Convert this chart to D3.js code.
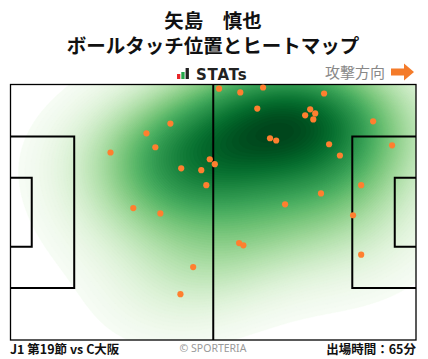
<!DOCTYPE html>
<html>
<head>
<meta charset="utf-8">
<script src="https://cdn.jsdelivr.net/npm/d3@7"></script>
<style>
  body { margin: 0; background: #fff; }
  svg { display: block; font-family: "Noto Sans CJK JP", "Noto Sans", sans-serif; }
</style>
</head>
<body>
<div id="chart"></div>
<script>
// ボールタッチ位置 (m, 105 x 68, 左から右へ攻撃)
const touchX = [41.4, 35.2, 37.5, 25.9, 51.6, 52.9, 44.2, 49.4, 50.7, 31.8, 38.8,
                54.0, 59.5, 65.4, 81.2, 63.9, 77.6, 78.9, 76.3, 78.4, 93.9, 67.2,
                68.8, 82.5, 98.8, 85.3, 90.8, 80.4, 71.1, 88.7, 47.3, 44.0, 59.2,
                60.3, 90.8];
const touchY = [10.4, 13.0, 16.7, 18.1, 19.9, 21.2, 22.3, 22.8, 26.8, 32.9, 34.3,
                1.1, 2.1, 0.8, 2.4, 6.4, 6.6, 7.7, 8.2, 9.3, 9.8, 14.3,
                14.9, 15.9, 16.2, 18.9, 26.8, 29.0, 31.9, 34.8, 48.6, 55.8, 42.2,
                42.8, 45.3];

const titleLines = ['矢島　慎也', 'ボールタッチ位置とヒートマップ'];
const footLeft = 'J1 第19節 vs C大阪';
const footRight = '出場時間：65分';

const W = 428, H = 359;
const pts = touchX.map((x, i) => ({ x: x, y: touchY[i] }));

const svg = d3.select('#chart').append('svg')
    .attr('width', W).attr('height', H);

const fx = d3.scaleLinear().domain([0, 105]).range([10.5, 416]);
const fy = d3.scaleLinear().domain([0, 68]).range([84.5, 340]);

// titles
svg.selectAll('text.title').data(titleLines).join('text')
    .attr('class', 'title')
    .attr('x', 213).attr('y', (d, i) => 28 + i * 25)
    .attr('text-anchor', 'middle')
    .attr('font-size', '19.5px').attr('font-weight', 700)
    .attr('fill', '#111')
    .text(d => d);

// STATs logo
const logo = svg.append('g').attr('transform', 'translate(177,79)');
[['#e8262a', 5], ['#23a64a', 7], ['#222', 11]].forEach((b, i) => {
    logo.append('rect').attr('x', i * 4.3).attr('y', -b[1]).attr('width', 3.3).attr('height', b[1]).attr('fill', b[0]);
});
svg.append('text').attr('x', 196).attr('y', 79.5)
    .attr('font-family', 'DejaVu Sans, sans-serif')
    .attr('font-size', '15px').attr('font-weight', 700).attr('fill', '#222')
    .attr('letter-spacing', '0.8px')
    .text('STATs');

// attack direction
svg.append('text').attr('x', 385).attr('y', 78)
    .attr('text-anchor', 'end')
    .attr('font-size', '15px').attr('fill', '#888')
    .text('攻撃方向');
svg.append('path')
    .attr('d', 'M391,68.5 H404 V63.5 L414,72 L404,80.5 V75.5 H391 Z')
    .attr('fill', '#f47b2a');

// heatmap: gaussian KDE with iso-proportion levels
const clip = svg.append('defs').append('clipPath').attr('id', 'field');
clip.append('rect').attr('x', fx(0)).attr('y', fy(0))
    .attr('width', fx(105) - fx(0)).attr('height', fy(68) - fy(0));

const px = pts.map(d => [fx(d.x), fy(d.y)]);
const mx = d3.mean(px, d => d[0]), my = d3.mean(px, d => d[1]);
const n = px.length;
let cxx = 0, cyy = 0, cxy = 0;
px.forEach(([a, b]) => { cxx += (a - mx) ** 2; cyy += (b - my) ** 2; cxy += (a - mx) * (b - my); });
const bwAdjust = 1.45;
const fac = (Math.pow(n, -1 / 6) * bwAdjust) ** 2;
cxx = cxx / (n - 1) * fac; cyy = cyy / (n - 1) * fac; cxy = cxy / (n - 1) * fac;
const det = cxx * cyy - cxy * cxy;
const ixx = cyy / det, iyy = cxx / det, ixy = -cxy / det;

const cell = 3, gx0 = fx(0) - 260, gy0 = fy(0) - 220;
const nx = Math.ceil((fx(105) - fx(0) + 520) / cell), ny = Math.ceil((fy(68) - fy(0) + 440) / cell);
const grid = new Float64Array(nx * ny);
for (let j = 0; j < ny; j++) {
    const y = gy0 + (j + 0.5) * cell;
    for (let i = 0; i < nx; i++) {
        const x = gx0 + (i + 0.5) * cell;
        let s = 0;
        for (const [a, b] of px) {
            const dx = x - a, dy = y - b;
            s += Math.exp(-0.5 * (ixx * dx * dx + 2 * ixy * dx * dy + iyy * dy * dy));
        }
        grid[j * nx + i] = s;
    }
}
const sorted = Array.from(grid).sort((a, b) => b - a);
const total = d3.sum(sorted);
const cum = [];
let acc = 0;
sorted.forEach(v => { acc += v; cum.push(acc / total); });
const isoLevel = q => {
    const idx = d3.bisectLeft(cum, 1 - q);
    return sorted[Math.min(idx, sorted.length - 1)];
};
const lo = isoLevel(0.04), hi = sorted[0];
const levels = d3.range(80).map(i => lo + (hi - lo) * i / 80);
const col = d3.scaleSequential(d3.interpolateGreens).domain([lo, hi]);

const contours = d3.contours().size([nx, ny]).thresholds(levels)(grid);
const path = d3.geoPath(d3.geoIdentity().scale(cell).translate([gx0, gy0]));
svg.append('g').attr('clip-path', 'url(#field)')
    .selectAll('path').data(contours).join('path')
    .attr('d', path)
    .attr('fill', d => col(d.value + (hi - lo) / 160))
    .attr('stroke', d => col(d.value + (hi - lo) / 160))
    .attr('stroke-width', 0.5);

// field lines
const lines = svg.append('g').attr('fill', 'none').attr('stroke', '#000');
lines.append('rect').attr('x', fx(0)).attr('y', fy(0))
    .attr('width', fx(105) - fx(0)).attr('height', fy(68) - fy(0))
    .attr('stroke-width', 1.3);
lines.append('line').attr('x1', fx(52.5)).attr('x2', fx(52.5))
    .attr('y1', fy(0)).attr('y2', fy(68)).attr('stroke-width', 2);
[[16.5, 20.16], [5.5, 9.16]].forEach(([d, half]) => {
    lines.append('path').attr('stroke-width', 2)
        .attr('d', `M${fx(0)},${fy(34 - half)} H${fx(d)} V${fy(34 + half)} H${fx(0)}`);
    lines.append('path').attr('stroke-width', 2)
        .attr('d', `M${fx(105)},${fy(34 - half)} H${fx(105 - d)} V${fy(34 + half)} H${fx(105)}`);
});

// touches
svg.append('g').selectAll('circle').data(pts).join('circle')
    .attr('cx', d => fx(d.x)).attr('cy', d => fy(d.y))
    .attr('r', 3.1).attr('fill', '#ff7f2f');

// footer
svg.append('text').attr('x', 10).attr('y', 354)
    .attr('font-size', '12.5px').attr('font-weight', 700).attr('fill', '#111')
    .text(footLeft);
svg.append('text').attr('x', 416).attr('y', 354).attr('text-anchor', 'end')
    .attr('font-size', '12.5px').attr('font-weight', 700).attr('fill', '#111')
    .text(footRight);
svg.append('text').attr('x', 213).attr('y', 352).attr('text-anchor', 'middle')
    .attr('font-family', 'Noto Sans, sans-serif')
    .attr('font-size', '10.5px').attr('fill', '#999')
    .text('© SPORTERIA');
</script>
</body>
</html>
